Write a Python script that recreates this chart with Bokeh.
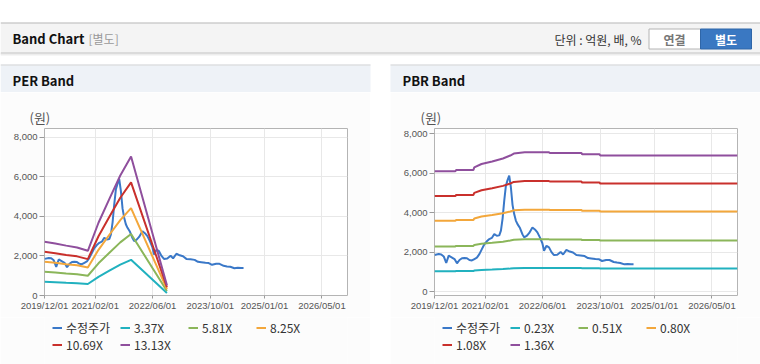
import pandas as pd
from bokeh.plotting import figure
from bokeh.models import (Range1d, FixedTicker, DatetimeTickFormatter, NumeralTickFormatter,
                          Legend, LegendItem, Spacer)
from bokeh.layouts import column, row
from bokeh.core.properties import value
from bokeh.embed import file_html
from bokeh.resources import INLINE

FONT_KR = "Noto Sans CJK KR"
FONT_TICK = "Liberation Sans"

# ---------------- data ----------------
price_label = "수정주가"
price_dates = ["2019-12-02", "2020-01-06", "2020-01-27", "2020-02-17", "2020-03-09", "2020-03-30",
               "2020-04-20", "2020-05-18", "2020-06-08", "2020-06-29", "2020-07-20", "2020-08-10",
               "2020-08-31", "2020-09-21", "2020-10-12", "2020-11-02", "2020-11-23", "2020-12-14",
               "2021-01-04", "2021-01-25", "2021-02-15", "2021-03-08", "2021-03-29", "2021-04-19",
               "2021-05-10", "2021-05-31", "2021-06-14", "2021-06-28", "2021-07-12", "2021-07-26",
               "2021-08-09", "2021-08-23", "2021-09-06", "2021-09-20", "2021-10-04", "2021-10-18",
               "2021-11-01", "2021-11-22", "2021-12-13", "2021-12-27", "2022-01-17", "2022-02-07",
               "2022-03-07", "2022-03-28", "2022-04-18", "2022-05-09", "2022-05-30", "2022-06-13",
               "2022-07-04", "2022-07-25", "2022-08-15", "2022-09-05", "2022-10-03", "2022-10-31",
               "2022-11-21", "2022-12-19", "2023-01-16", "2023-02-13", "2023-03-13", "2023-04-17",
               "2023-05-22", "2023-06-19", "2023-07-17", "2023-08-21", "2023-09-18", "2023-10-16",
               "2023-11-20", "2023-12-18", "2024-01-22", "2024-02-19", "2024-03-18", "2024-04-22",
               "2024-05-20", "2024-06-17", "2024-07-08"]
price = [1850, 1900, 1880, 1780, 1450, 1820,
         1750, 1650, 1430, 1600, 1690, 1700,
         1690, 1600, 1580, 1650, 1720, 1900,
         2150, 2400, 2550, 2660, 2720, 2920,
         2830, 2850, 3090, 3700, 4610, 5370,
         5650, 5880, 5290, 4400, 3930, 3600,
         3420, 3220, 2900, 2750, 2820, 2960,
         3250, 3150, 3000, 2750, 2450, 2070,
         2320, 2240, 2000, 1850, 1870, 2010,
         1880, 2110, 2030, 1980, 1850, 1830,
         1800, 1700, 1680, 1650, 1640, 1550,
         1600, 1600, 1500, 1470, 1450, 1380,
         1400, 1390, 1390]

per_dates = ["2019-12-01", "2020-03-01", "2020-06-01", "2020-09-01", "2020-12-01",
             "2021-03-01", "2021-06-01", "2021-09-01", "2021-12-01", "2022-09-30"]
per_labels = ["3.37X", "5.81X", "8.25X", "10.69X", "13.13X"]
per_337 = [698, 674, 647, 623, 580, 944, 1254, 1557, 1803, 131]
per_581 = [1203, 1162, 1116, 1075, 999, 1627, 2161, 2684, 3108, 227]
per_825 = [1708, 1650, 1584, 1526, 1419, 2310, 3069, 3812, 4414, 322]
per_1069 = [2213, 2138, 2052, 1978, 1839, 2993, 3977, 4939, 5719, 417]
per_1313 = [2718, 2626, 2521, 2429, 2258, 3676, 4884, 6066, 7025, 512]

pbr_dates = ["2019-12-01", "2020-05-25", "2020-06-01", "2020-10-25", "2020-11-01", "2021-01-01",
             "2021-04-01", "2021-07-01", "2021-09-01", "2021-10-01", "2022-01-01", "2022-07-25",
             "2022-08-01", "2023-04-25", "2023-05-01", "2023-09-25", "2023-10-01", "2026-12-03"]
pbr_labels = ["0.23X", "0.51X", "0.80X", "1.08X", "1.36X"]
pbr_023 = [1032, 1032, 1043, 1043, 1065, 1094, 1116, 1142, 1167, 1184, 1194, 1194, 1189, 1189, 1177, 1177, 1167, 1167]
pbr_051 = [2287, 2287, 2314, 2314, 2363, 2426, 2475, 2531, 2588, 2625, 2648, 2648, 2636, 2636, 2610, 2610, 2588, 2588]
pbr_080 = [3588, 3588, 3629, 3629, 3706, 3806, 3882, 3971, 4059, 4118, 4153, 4153, 4135, 4135, 4094, 4094, 4059, 4059]
pbr_108 = [4844, 4844, 4900, 4900, 5003, 5138, 5241, 5360, 5479, 5559, 5606, 5606, 5582, 5582, 5527, 5527, 5479, 5479]
pbr_136 = [6100, 6100, 6170, 6170, 6300, 6470, 6600, 6750, 6900, 7000, 7060, 7060, 7030, 7030, 6960, 6960, 6900, 6900]

x_tick_dates = ["2019-12-01", "2021-02-01", "2022-06-01", "2023-10-01", "2025-01-01", "2026-05-01"]
y_ticks = [0, 2000, 4000, 6000, 8000]
x_start, x_end = "2019-12-01", "2026-12-03"

# ---------------- styles ----------------
PRICE_COLOR = "#3a78c8"
BAND_COLORS = ["#21b1bf", "#8bb65a", "#f3a73b", "#c9302c", "#8f4f9d"]
PANEL_BG = "#fcfcfc"
HEAD_BG = "#eef2f7"


def deco_fig(w, h, bg):
    f = figure(width=w, height=h, x_range=Range1d(0, w), y_range=Range1d(h, 0),
               x_axis_type=None, y_axis_type=None, output_backend="svg",
               toolbar_location=None, min_border=0, outline_line_color=None,
               background_fill_color=bg, border_fill_color=bg)
    return f


def make_chart(band_dates, bands, band_labels, y0, y1, title_off):
    p = figure(width=370, height=225, x_axis_type="datetime", output_backend="svg",
               toolbar_location=None,
               x_range=Range1d(pd.Timestamp(x_start), pd.Timestamp(x_end)),
               y_range=Range1d(y0, y1),
               min_border_left=44, min_border_right=23,
               min_border_top=36, min_border_bottom=22,
               border_fill_color=PANEL_BG, background_fill_color="#ffffff",
               outline_line_color="#b4b4b4", title="(원)")
    p.title.align = "left"
    p.title.offset = title_off
    p.title.standoff = 3
    p.title.text_font = FONT_KR
    p.title.text_font_size = "13px"
    p.title.text_font_style = "normal"
    p.title.text_color = "#555555"

    xt = FixedTicker(ticks=[pd.Timestamp(d).value // 10**6 for d in x_tick_dates])
    p.xaxis.ticker = xt
    p.xgrid.ticker = xt
    fmt = "%Y/%m/%d"
    p.xaxis.formatter = DatetimeTickFormatter(
        milliseconds=fmt, seconds=fmt, minsec=fmt, minutes=fmt, hourmin=fmt, hours=fmt,
        days=fmt, months=fmt, years=fmt)
    yt = FixedTicker(ticks=y_ticks)
    p.yaxis.ticker = yt
    p.ygrid.ticker = yt
    p.yaxis.formatter = NumeralTickFormatter(format="0,0")

    for ax in (p.xaxis, p.yaxis):
        ax.axis_line_color = None
        ax.major_tick_line_color = "#9a9a9a"
        ax.major_tick_in = 0
        ax.minor_tick_line_color = None
        ax.major_label_text_font = FONT_TICK
        ax.major_label_text_font_size = "9.5px"
        ax.major_label_text_color = "#555555"
    p.xaxis.major_tick_out = 3
    p.xaxis.major_label_standoff = 1
    p.yaxis.major_tick_out = 5
    p.yaxis.major_label_standoff = 2
    p.xgrid.grid_line_color = "#e8e8e8"
    p.ygrid.grid_line_color = "#e8e8e8"

    p.line(pd.to_datetime(price_dates), price, line_color=PRICE_COLOR, line_width=2)
    bd = pd.to_datetime(band_dates)
    for vals, col in zip(bands, BAND_COLORS):
        p.line(bd, vals, line_color=col, line_width=2)
    return p


def make_legend(band_labels):
    g = figure(width=370, height=47, x_axis_type=None, y_axis_type=None, output_backend="svg",
               toolbar_location=None, x_range=Range1d(0, 1), y_range=Range1d(0, 1),
               min_border_left=44, min_border_right=23, min_border_top=0, min_border_bottom=0,
               outline_line_color=None, background_fill_color=PANEL_BG, border_fill_color=PANEL_BG)
    items = []
    for lab, col in zip([price_label] + band_labels, [PRICE_COLOR] + BAND_COLORS):
        # single-point line: draws nothing in the frame, only provides the legend swatch
        r = g.line(x=[0], y=[0], line_color=col, line_width=2)
        items.append(LegendItem(label=lab, renderers=[r]))
    legend = Legend(items=items, location=(8, 11), orientation="horizontal", ncols=4,
                    label_text_font=FONT_KR, label_text_font_size="12px",
                    label_text_color="#333333", glyph_width=10, glyph_height=13,
                    label_standoff=4, label_width=54, label_height=13, spacing=-3,
                    padding=0, margin=0, background_fill_alpha=0, border_line_alpha=0)
    g.add_layout(legend)
    return g


# ---------------- header + panel heads ----------------
hdr = deco_fig(760, 92, "#ffffff")
hdr.quad(left=[0], right=[760], top=[23], bottom=[52], fill_color="#f4f4f4", line_color=None)
hdr.segment(x0=[0], x1=[760], y0=[22.5], y1=[22.5], line_color="#b4b4b4", line_width=1)
hdr.segment(x0=[0, 0, 0], x1=[760, 760, 760], y0=[52.5, 53.5, 54.5], y1=[52.5, 53.5, 54.5],
            line_color=["#bdbdbd", "#d9d9d9", "#eeeeee"], line_width=1)
hdr.text(x=[12], y=[38], text=["Band Chart"], text_font=value(FONT_KR), text_font_size="13px",
         text_font_style="bold", text_baseline="middle", text_color="#111111")
hdr.text(x=[88], y=[38], text=["[별도]"], text_font=value(FONT_KR), text_font_size="12px",
         text_baseline="middle", text_color="#999999")
hdr.text(x=[641], y=[39], text=["단위 : 억원, 배, %"], text_font=value(FONT_KR), text_font_size="12px",
         text_baseline="middle", text_align="right", text_color="#333333")
hdr.quad(left=[648.5], right=[700], top=[28.5], bottom=[48.5], fill_color="#ffffff", line_color="#b4b4b4")
hdr.quad(left=[700], right=[751], top=[28.5], bottom=[48.5], fill_color="#3a78c2", line_color="#2f66a8")
hdr.text(x=[674], y=[39], text=["연결"], text_font=value(FONT_KR), text_font_size="12px",
         text_font_style="bold", text_baseline="middle", text_align="center", text_color="#777777")
hdr.text(x=[725.5], y=[39], text=["별도"], text_font=value(FONT_KR), text_font_size="12px",
         text_font_style="bold", text_baseline="middle", text_align="center", text_color="#ffffff")
# panel heads
hdr.quad(left=[0, 390], right=[370, 760], top=[64, 64], bottom=[92, 92], fill_color=HEAD_BG, line_color=None)
hdr.segment(x0=[0, 390], x1=[370, 760], y0=[64.5, 64.5], y1=[64.5, 64.5], line_color="#d6d6d6", line_width=1)
hdr.text(x=[12, 402], y=[80, 80], text=["PER Band", "PBR Band"], text_font=value(FONT_KR),
         text_font_size="13px", text_font_style="bold", text_baseline="middle", text_color="#111111")

# ---------------- charts ----------------
lc = make_chart(per_dates, [per_337, per_581, per_825, per_1069, per_1313], per_labels, 0, 8440, -15)
rc = make_chart(pbr_dates, [pbr_023, pbr_051, pbr_080, pbr_108, pbr_136], pbr_labels, -200, 8270, -14)
lg = make_legend(per_labels)
rg = make_legend(pbr_labels)

layout = column(hdr, row(column(lc, lg), Spacer(width=20, height=272), column(rc, rg)))

open("out.html", "w").write(file_html(layout, INLINE))
